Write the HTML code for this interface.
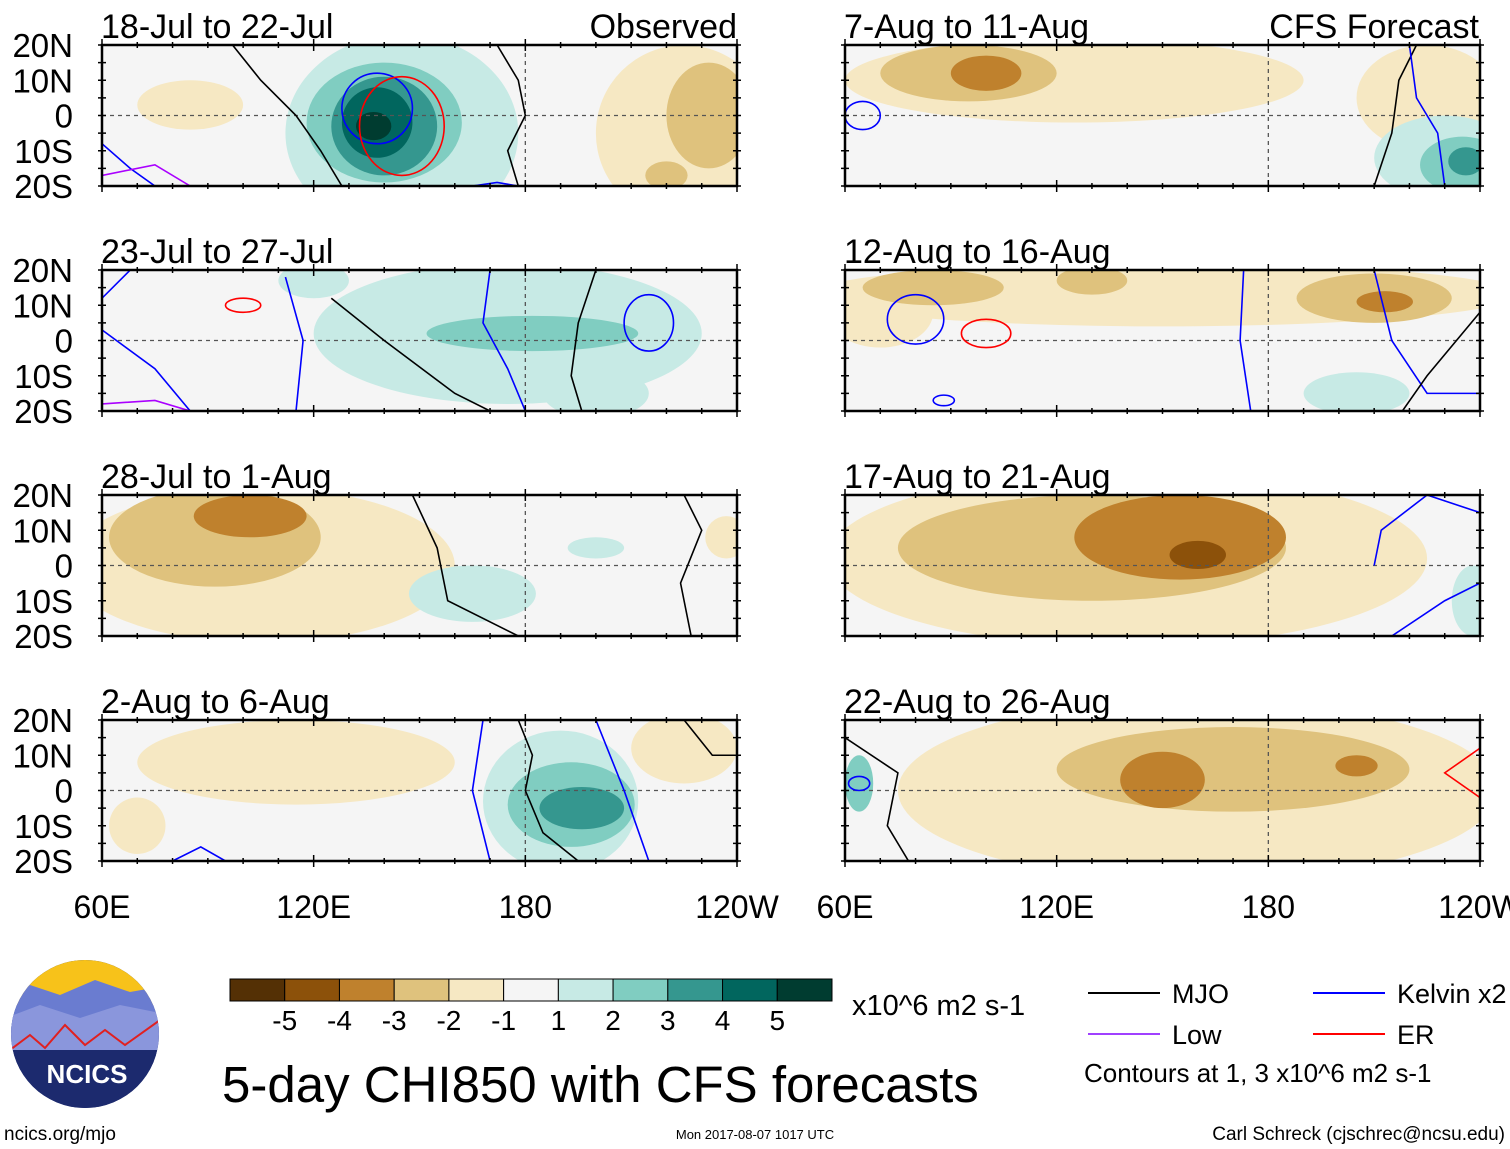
<!DOCTYPE html>
<html><head><meta charset="utf-8">
<style>
body{margin:0;background:#fff;font-family:"Liberation Sans",sans-serif;}
#wrap{position:relative;width:1510px;height:1149px;overflow:hidden;}
</style></head>
<body>
<div id="wrap">
<svg id="svg" width="1510" height="1149" xmlns="http://www.w3.org/2000/svg"></svg>
</div>
<script>
const levelColors = ['#543005','#8c510a','#bf812d','#dfc27d','#f6e8c3','#f5f5f5','#c7eae5','#80cdc1','#35978f','#01665e','#003c30'];
const cbarTicks = ['-5','-4','-3','-2','-1','1','2','3','4','5'];
const latTicks = ['20N','10N','0','10S','20S'];
const lonTicks = ['60E','120E','180','120W'];
const lonTickVals = [60,120,180,240];
const panelTitles = ['18-Jul to 22-Jul','23-Jul to 27-Jul','28-Jul to 1-Aug','2-Aug to 6-Aug','7-Aug to 11-Aug','12-Aug to 16-Aug','17-Aug to 21-Aug','22-Aug to 26-Aug'];
// blobs: [lon, lat, rxDeg, ryDeg, value]
const blobs = [
 [[145,-5,33,28,1],[140,-2,22,17,2],[140,-3,15,14,3],[138,-2,10,10,4],[137,-3,5,4,5],[85,3,15,7,-1],[225,-5,25,25,-1],[232,0,12,15,-2],[220,-17,6,4,-2]],
 [[175,2,55,20,1],[182,2,30,5,2],[200,-15,15,7,1],[120,17,10,5,1]],
 [[105,0,55,22,-1],[92,8,30,14,-2],[102,14,16,6,-3],[165,-8,18,8,1],[200,5,8,3,1],[237,8,6,6,-1]],
 [[190,-3,22,20,1],[193,-4,18,12,2],[196,-5,12,6,3],[115,8,45,12,-1],[225,12,15,10,-1],[70,-10,8,8,-1]],
 [[125,10,65,12,-1],[95,12,25,8,-2],[100,12,10,5,-3],[225,5,20,15,-1],[230,-12,20,12,1],[235,-14,12,8,2],[236,-13,5,4,3]],
 [[150,13,100,9,-1],[70,8,15,10,-1],[85,15,20,5,-2],[130,17,10,4,-2],[210,12,22,7,-2],[213,11,8,3,-3],[205,-15,15,6,1]],
 [[140,2,85,25,-1],[130,5,55,15,-2],[155,8,30,12,-3],[160,3,8,4,-4],[238,-10,6,10,1]],
 [[160,0,85,26,-1],[170,6,50,12,-2],[150,3,12,8,-3],[205,7,6,3,-3],[64,2,4,8,2],[64,2,2,3,1]]
];
// lines: [color, [lon,lat pairs]]
const lines = [
 [['#000',[[97,20],[105,10],[115,0],[122,-10],[128,-20]]],['#000',[[172,20],[178,10],[180,0],[175,-10],[178,-20]]],['#00f',[[60,-8],[68,-15],[75,-20]]],['#a0f',[[60,-17],[75,-14],[85,-20]]],['#00f',[[165,-20],[172,-19],[178,-20]]]],
 [['#000',[[125,12],[140,0],[160,-15],[170,-20]]],['#000',[[200,20],[195,5],[193,-10],[196,-20]]],['#00f',[[60,12],[68,20]]],['#00f',[[60,3],[75,-8],[85,-20]]],['#00f',[[112,18],[117,0],[115,-20]]],['#00f',[[170,20],[168,5],[175,-8],[180,-20]]],['#a0f',[[60,-18],[75,-17],[85,-20]]]],
 [['#000',[[148,20],[155,5],[158,-10],[178,-20]]],['#000',[[225,20],[230,10],[224,-5],[227,-20]]]],
 [['#000',[[178,20],[182,10],[180,0],[185,-12],[195,-20]]],['#000',[[225,20],[233,10],[240,10]]],['#00f',[[168,20],[165,0],[170,-20]]],['#00f',[[200,20],[208,0],[215,-20]]],['#00f',[[80,-20],[88,-16],[95,-20]]]],
 [['#000',[[210,-20],[215,-5],[217,10],[222,20]]],['#00f',[[220,20],[222,5],[228,-5],[230,-20]]]],
 [['#00f',[[173,20],[172,0],[175,-20]]],['#00f',[[210,20],[215,0],[225,-15],[240,-15]]],['#000',[[218,-20],[225,-10],[240,8]]]],
 [['#00f',[[210,0],[212,10],[225,20],[240,15]]],['#00f',[[215,-20],[230,-10],[240,-5]]]],
 [['#000',[[60,15],[75,5],[72,-10],[78,-20]]],['#f00',[[240,12],[230,5],[240,-2]]]]
];
// closed contours: [color, lon, lat, rx, ry]
const rings = [
 [['#00f',138,2,10,10],['#f00',145,-3,12,14]],
 [['#f00',100,10,5,2],['#00f',215,5,7,8]],
 [],[],
 [['#00f',65,0,5,4]],
 [['#00f',80,6,8,7],['#f00',100,2,7,4],['#00f',88,-17,3,1.5]],
 [],
 [['#00f',64,2,3,2]]
];
const NS='http://www.w3.org/2000/svg';
const svg=document.getElementById('svg');
function mk(t,a,p){const e=document.createElementNS(NS,t);for(const k in a)e.setAttribute(k,a[k]);(p||svg).appendChild(e);return e;}
function txt(x,y,s,size,anchor,p){const e=mk('text',{x:x,y:y,'font-size':size,'text-anchor':anchor||'start','font-family':'Liberation Sans, sans-serif',fill:'#000'},p);e.textContent=s;return e;}
const colX=[102,845], rowY=[45,270,495,720], PW=635, PH=141;
const defs=mk('defs',{});
function colorFor(v){return levelColors[5+v];}
for(let i=0;i<8;i++){
  const c=Math.floor(i/4), r=i%4, X0=colX[c], Y0=rowY[r];
  const xs=lon=>X0+(lon-60)/180*PW, ys=lat=>Y0+(20-lat)/40*PH;
  const cp=mk('clipPath',{id:'cp'+i},defs);mk('rect',{x:X0,y:Y0,width:PW,height:PH},cp);
  const g=mk('g',{'clip-path':'url(#cp'+i+')'});
  
  
  mk('rect',{x:X0,y:Y0,width:PW,height:PH,fill:'#f5f5f5'},g);
  const bl=blobs[i].slice().sort((a,b)=>Math.abs(a[4])-Math.abs(b[4]));
  for(const b of bl){
    const e=mk('ellipse',{cx:xs(b[0]),cy:ys(b[1]),rx:b[2]/180*PW,ry:b[3]/40*PH,fill:colorFor(b[4])},g);
    
    
  }
  mk('line',{x1:X0,x2:X0+PW,y1:ys(0),y2:ys(0),stroke:'#555','stroke-dasharray':'4,4','stroke-width':1.3},g);
  mk('line',{x1:xs(180),x2:xs(180),y1:Y0,y2:Y0+PH,stroke:'#555','stroke-dasharray':'4,4','stroke-width':1.3},g);
  for(const L of lines[i]){
    const pl=mk('polyline',{points:L[1].map(p=>xs(p[0])+','+ys(p[1])).join(' '),fill:'none',stroke:L[0],'stroke-width':1.6},g);
    
    
  }
  for(const R of rings[i]){
    const e=mk('ellipse',{cx:xs(R[1]),cy:ys(R[2]),rx:R[3]/180*PW,ry:R[4]/40*PH,fill:'none',stroke:R[0],'stroke-width':1.6},g);
    
    
  }
  const fr=mk('rect',{x:X0,y:Y0,width:PW,height:PH,fill:'none',stroke:'#000','stroke-width':2.5});
  
  
  for(let lon=60;lon<=240;lon+=10){const h=lon%60==0?6:3;mk('line',{x1:xs(lon),x2:xs(lon),y1:Y0-h,y2:Y0+h,stroke:'#000','stroke-width':1.5});mk('line',{x1:xs(lon),x2:xs(lon),y1:Y0+PH-h,y2:Y0+PH+h,stroke:'#000','stroke-width':1.5});}
  for(let lat=-20;lat<=20;lat+=5){mk('line',{x1:X0-4,x2:X0+4,y1:ys(lat),y2:ys(lat),stroke:'#000','stroke-width':1.5});mk('line',{x1:X0+PW-4,x2:X0+PW+4,y1:ys(lat),y2:ys(lat),stroke:'#000','stroke-width':1.5});}
  const t=txt(X0-1,Y0-7,panelTitles[i],34);
  
  
  if(c==0){latTicks.forEach((s,k)=>{const l=txt(73,Y0+k*PH/4+12,s,33,'end');});}
  if(r==3){lonTicks.forEach((s,k)=>{const l=txt(xs(lonTickVals[k]),918,s,32,'middle');});}
}
let t=txt(737,38,'Observed',34,'end');
t=txt(1479,38,'CFS Forecast',34,'end');
// colorbar
const cbw=602/11;
levelColors.forEach((col,k)=>{const r=mk('rect',{x:230+k*cbw,y:979,width:cbw,height:22,fill:col,stroke:'#000','stroke-width':1});});
cbarTicks.forEach((s,k)=>{const l=txt(230+(k+1)*cbw,1030,s,28,'middle');});
t=txt(852,1015,'x10^6 m2 s-1',29);
t=txt(222,1102,'5-day CHI850 with CFS forecasts',51);
// legend
const leg=[['MJO','#000',1088,993],['Kelvin x2','#00f',1313,993],['Low','#a040ff',1088,1034],['ER','#f00',1313,1034]];
leg.forEach(L=>{const g=mk('g',{});mk('line',{x1:L[2],x2:L[2]+72,y1:L[3],y2:L[3],stroke:L[1],'stroke-width':2},g);txt(L[2]+84,L[3]+10,L[0],27,'start',g);});
t=txt(1084,1082,'Contours at 1, 3 x10^6 m2 s-1',26);
// logo
const lg=mk('g',{});
mk('clipPath',{id:'lc'},defs).appendChild(document.createElementNS(NS,'circle'));
const lcc=defs.querySelector('#lc circle');lcc.setAttribute('cx',85);lcc.setAttribute('cy',1034);lcc.setAttribute('r',74);
mk('circle',{cx:85,cy:1034,r:74,fill:'#1c2a6e'},lg);
const lgi=mk('g',{'clip-path':'url(#lc)'},lg);
mk('rect',{x:0,y:955,width:170,height:50,fill:'#f7c21a'},lgi);
mk('path',{d:'M0,1000 L30,985 L60,995 L95,980 L130,992 L170,985 L170,1030 L0,1030Z',fill:'#6a7cd0'},lgi);
mk('path',{d:'M0,1020 L40,1005 L80,1018 L120,1005 L170,1015 L170,1050 L0,1050Z',fill:'#8a96dc'},lgi);
mk('path',{d:'M10,1050 L30,1035 L45,1048 L65,1025 L85,1045 L105,1030 L125,1045 L160,1020',fill:'none',stroke:'#e02020','stroke-width':2},lgi);
mk('rect',{x:0,y:1050,width:170,height:60,fill:'#1c2a6e'},lgi);
t=txt(87,1083,'NCICS',26,'middle',lg);t.setAttribute('fill','#fff');t.setAttribute('font-weight','bold');
t=txt(4,1140,'ncics.org/mjo',19);
t=txt(755,1139,'Mon 2017-08-07 1017 UTC',13,'middle');
t=txt(1505,1140,'Carl Schreck (cjschrec@ncsu.edu)',19,'end');
</script>
</body></html>
